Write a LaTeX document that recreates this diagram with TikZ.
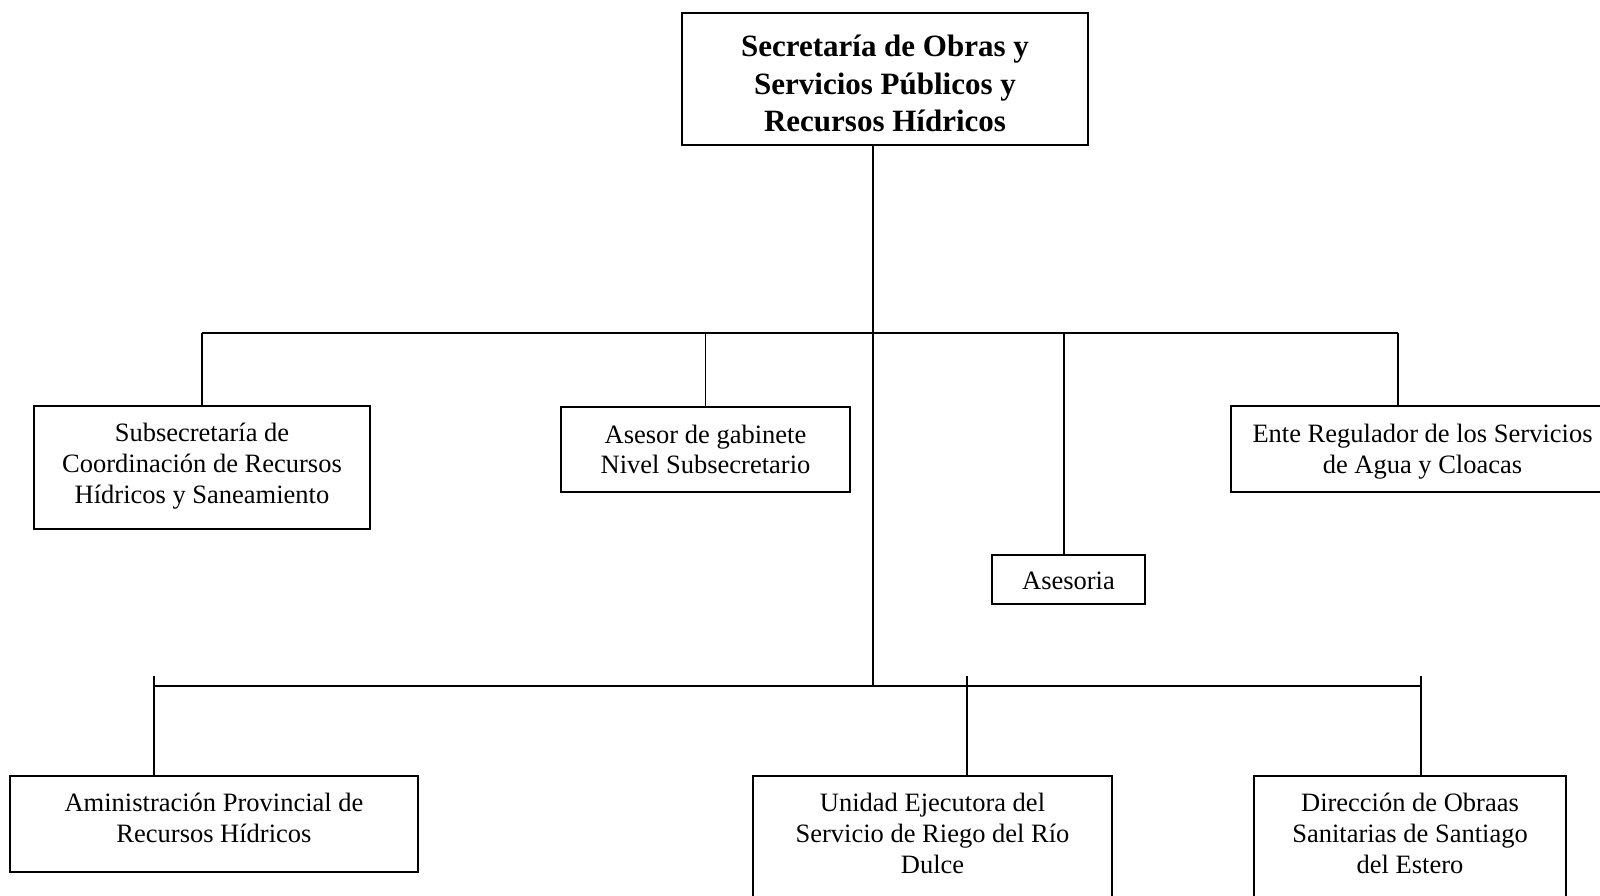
\documentclass[tikz,border=0pt]{standalone}
\usepackage{fontspec}
\setmainfont{Liberation Serif}
\begin{document}
\begin{tikzpicture}[x=1pt,y=-1pt,
  box/.style={draw,line width=1.5pt,inner sep=0pt,rectangle},
  txt/.style={align=center,inner sep=0pt,font=\fontsize{26.5}{30.8}\selectfont},
  btxt/.style={align=center,inner sep=0pt,font=\fontsize{31}{37.2}\selectfont\bfseries},
  conn/.style={line width=1.5pt}]
\useasboundingbox (0,0) rectangle (1600,895);
\clip (0,0) rectangle (1600,895);
% boxes
\node[box,minimum width=406pt,minimum height=132pt] (top) at (885,79) {};
\node[btxt] (topT) at (885,83.5) {Secretaría de Obras y\\Servicios Públicos y\\Recursos Hídricos};
\node[box,minimum width=336pt,minimum height=123pt] (b1) at (202,467.5) {};
\node[txt] (b1T) at (202,466) {Subsecretaría de\\Coordinación de Recursos\\Hídricos y Saneamiento};
\node[box,minimum width=289pt,minimum height=85pt] (b2) at (705.5,449.5) {};
\node[txt] (b2T) at (705.5,449.5) {Asesor de gabinete\\Nivel Subsecretario};
\node[box,minimum width=153pt,minimum height=49pt] (as) at (1068.5,579.5) {};
\node[txt] (asT) at (1068.5,581) {Asesoria};
\node[box,minimum width=383pt,minimum height=86pt] (ente) at (1422.5,449) {};
\node[txt] (enteT) at (1422.5,452) {Ente Regulador de los Servicios\\de Agua y Cloacas};
\node[box,minimum width=408pt,minimum height=96pt] (A) at (214,824) {};
\node[txt] (AT) at (214,818) {Aministración Provincial de\\Recursos Hídricos};
\node[box,minimum width=359pt,minimum height=144pt] (U) at (932.5,848) {};
\node[txt] (UT) at (932.5,833.5) {Unidad Ejecutora del\\Servicio de Riego del Río\\Dulce};
\node[box,minimum width=312pt,minimum height=144pt] (D) at (1410,848) {};
\node[txt] (DT) at (1410,833.5) {Dirección de Obraas\\Sanitarias de Santiago\\del Estero};
% junction coordinates
\coordinate (s1) at (873,686);
\coordinate (h1L) at (202,333);
\coordinate (h1R) at (1398,333);
\coordinate (d3) at (1064,333);
\coordinate (h2L) at (154,686);
\coordinate (h2R) at (1421,686);
\coordinate (t1) at (154,676);
\coordinate (t2) at (967,676);
\coordinate (t3) at (1421,676);
% connectors
\draw[conn] (s1 |- top.south) -- (s1);
\draw[conn] (h1L) -- (h1R);
\draw[conn] (b1.north) -- (b1.north |- h1L);
\draw[conn] (b2.north) -- (b2.north |- h1L);
\draw[conn] (d3) -- (d3 |- as.north);
\draw[conn] (h1R) -- (h1R |- ente.north);
\draw[conn] (h2L) -- (h2R);
\draw[conn] (t1) -- (t1 |- A.north);
\draw[conn] (t2) -- (t2 |- U.north);
\draw[conn] (t3) -- (t3 |- D.north);
\end{tikzpicture}
\end{document}
